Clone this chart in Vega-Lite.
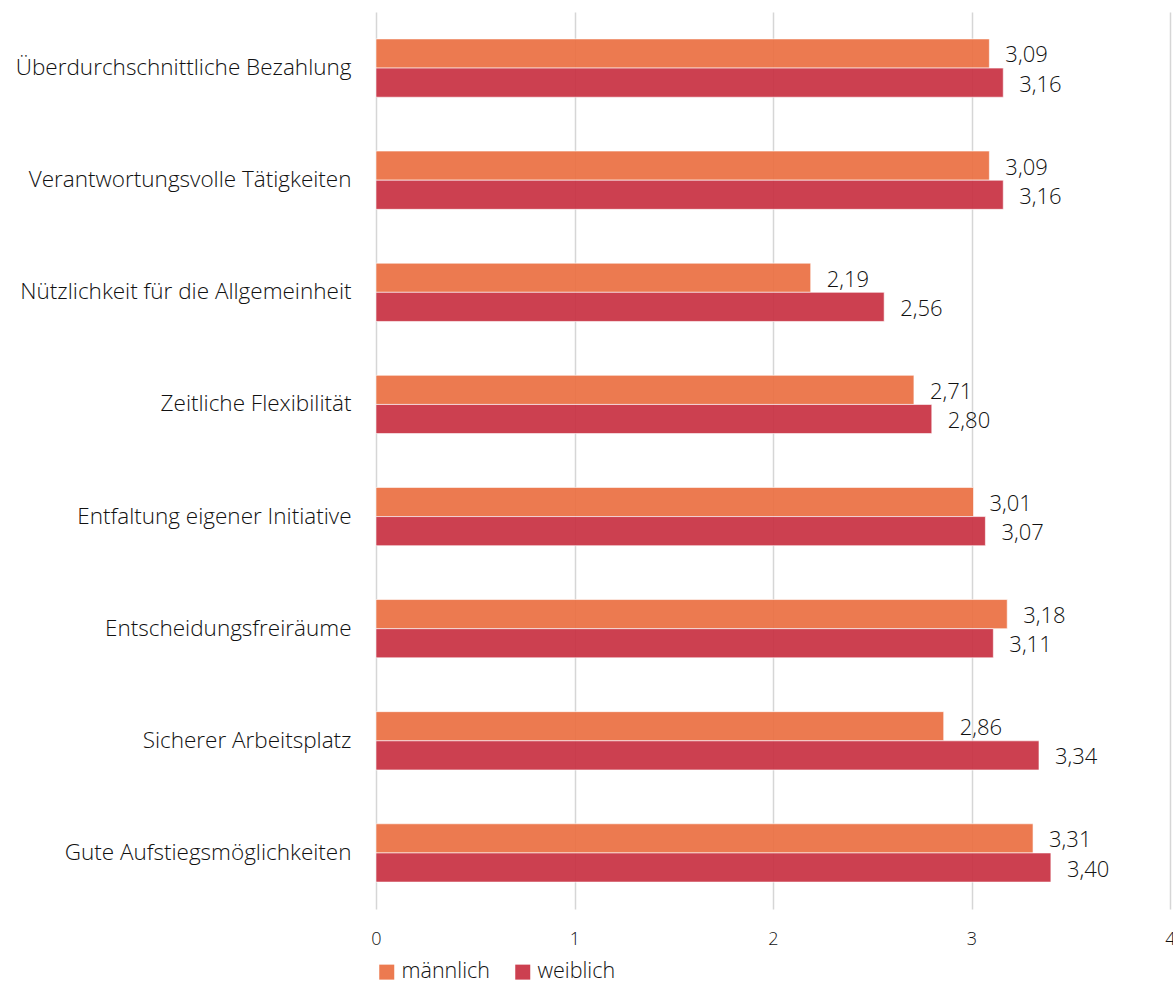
{
  "$schema": "https://vega.github.io/schema/vega-lite/v6.json",
  "autosize": {"type": "none"},
  "padding": {"left": 376, "top": 12, "right": 3, "bottom": 74},
  "width": 794,
  "height": 897,
  "background": "white",
  "config": {
    "locale": {"number": {"decimal": ",", "thousands": ".", "grouping": [3], "currency": ["", " €"]}},
    "view": {"stroke": null},
    "font": "Open Sans"
  },
  "data": {
    "values": [
      {"item": "Überdurchschnittliche Bezahlung", "sex": "männlich", "value": 3.09},
      {"item": "Überdurchschnittliche Bezahlung", "sex": "weiblich", "value": 3.16},
      {"item": "Verantwortungsvolle Tätigkeiten", "sex": "männlich", "value": 3.09},
      {"item": "Verantwortungsvolle Tätigkeiten", "sex": "weiblich", "value": 3.16},
      {"item": "Nützlichkeit für die Allgemeinheit", "sex": "männlich", "value": 2.19},
      {"item": "Nützlichkeit für die Allgemeinheit", "sex": "weiblich", "value": 2.56},
      {"item": "Zeitliche Flexibilität", "sex": "männlich", "value": 2.71},
      {"item": "Zeitliche Flexibilität", "sex": "weiblich", "value": 2.80},
      {"item": "Entfaltung eigener Initiative", "sex": "männlich", "value": 3.01},
      {"item": "Entfaltung eigener Initiative", "sex": "weiblich", "value": 3.07},
      {"item": "Entscheidungsfreiräume", "sex": "männlich", "value": 3.18},
      {"item": "Entscheidungsfreiräume", "sex": "weiblich", "value": 3.11},
      {"item": "Sicherer Arbeitsplatz", "sex": "männlich", "value": 2.86},
      {"item": "Sicherer Arbeitsplatz", "sex": "weiblich", "value": 3.34},
      {"item": "Gute Aufstiegsmöglichkeiten", "sex": "männlich", "value": 3.31},
      {"item": "Gute Aufstiegsmöglichkeiten", "sex": "weiblich", "value": 3.40}
    ]
  },
  "encoding": {
    "y": {
      "field": "item",
      "type": "nominal",
      "sort": null,
      "title": null,
      "scale": {"paddingInner": 0.48, "paddingOuter": 0.24},
      "axis": {
        "domain": false,
        "ticks": false,
        "labelPadding": 25,
        "labelFontSize": 22.5,
        "labelFont": "Open Sans",
        "labelFontWeight": 300,
        "labelColor": "#111111",
        "labelLimit": 400
      }
    },
    "yOffset": {"field": "sex", "type": "nominal", "sort": ["männlich", "weiblich"]},
    "x": {
      "field": "value",
      "type": "quantitative",
      "title": null,
      "scale": {"domain": [0, 4], "nice": false},
      "axis": {
        "values": [0, 1, 2, 3, 4],
        "domain": false,
        "ticks": false,
        "grid": true,
        "gridColor": "#d6d6d6",
        "gridWidth": 1.5,
        "labelPadding": 21,
        "labelFontSize": 18,
        "labelFont": "Open Sans",
        "labelFontWeight": 300,
        "labelColor": "#111111",
        "labelFlush": false,
        "format": "d"
      }
    }
  },
  "layer": [
    {
      "mark": {"type": "bar", "fillOpacity": 0.93, "stroke": "#ffffff", "strokeOpacity": 0.6, "strokeWidth": 1},
      "encoding": {
        "color": {
          "field": "sex",
          "type": "nominal",
          "scale": {"domain": ["männlich", "weiblich"], "range": ["#EB7043", "#C83243"]},
          "legend": {
            "title": null,
            "orient": "none",
            "direction": "horizontal",
            "legendX": 0,
            "legendY": 949,
            "symbolType": "square",
            "symbolSize": 225,
            "symbolOpacity": 0.93,
            "symbolStrokeWidth": 0,
            "labelFontSize": 21.5,
            "labelFont": "Open Sans",
            "labelFontWeight": 300,
            "labelColor": "#111111",
            "labelOffset": 4,
            "columnPadding": 22
          }
        }
      }
    },
    {
      "mark": {
        "type": "text",
        "align": "left",
        "baseline": "middle",
        "dx": 16,
        "dy": 2,
        "fontSize": 22,
        "font": "Open Sans",
        "fontWeight": 300,
        "color": "#111111"
      },
      "encoding": {
        "text": {"field": "value", "type": "quantitative", "format": ".2f"}
      }
    }
  ]
}
